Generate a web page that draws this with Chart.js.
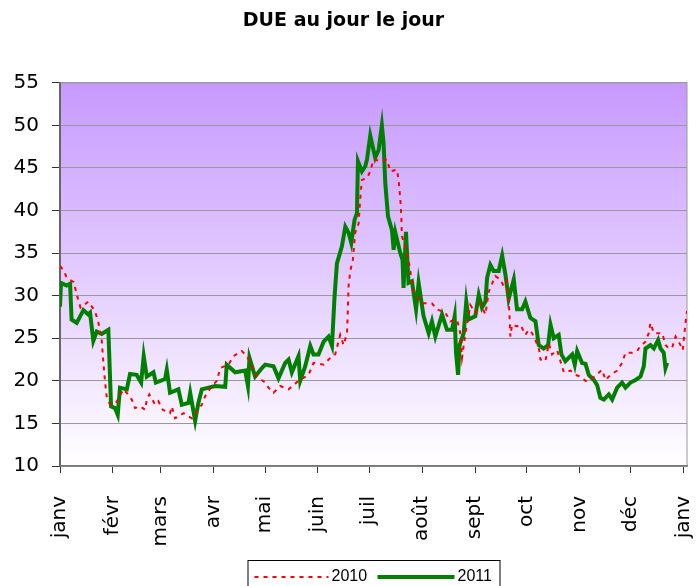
<!DOCTYPE html>
<html>
<head>
<meta charset="utf-8">
<script src="https://cdn.jsdelivr.net/npm/chart.js@4/dist/chart.umd.min.js"></script>
<style>
  body { margin: 0; background: #fff; }
  #wrap { width: 699px; height: 586px; }
</style>
</head>
<body>
<div id="wrap"><canvas id="c"></canvas></div>
<script>
// axis: day of year, month starts
const monthDays = [0, 31, 59, 90, 120, 151, 181, 212, 243, 273, 304, 334, 365];
const monthLabels = ['janv', 'févr', 'mars', 'avr', 'mai', 'juin', 'juil', 'août', 'sept', 'oct', 'nov', 'déc', 'janv'];

const days2010 = [0, 2, 4, 8, 10, 12, 16.6, 20.5, 22.5, 24.4, 25.4, 26.4, 27.3, 29.3, 33, 37.1, 39, 42, 43.9, 46.9,
  49.8, 50.8, 52.3, 55.7, 57.6, 60.1, 64.4, 65.4, 67.4, 72.3, 77.2, 80.1, 83, 85, 88.9, 91.8, 93.8, 98.6, 101.5, 106.4,
  109.4, 113.3, 115.2, 120.1, 122, 125, 128.9, 133.8, 139.6, 145.5, 148.4, 154.3, 158.2, 161.1, 164, 166, 168, 168.5, 168.9, 169.9,
  171.4, 172.8, 174.8, 175.7, 176.7, 179.7, 181.6, 183.5, 187.5, 191.4, 193.3, 197.2, 198.2, 199.2, 199.8, 200.1, 202.1, 204, 206, 206.9,
  211.8, 217.7, 220.6, 225.5, 228.5, 232.4, 234.3, 235.3, 237.3, 240.2, 243.1, 246, 249, 251, 254.8, 257.8, 259.7, 261.6, 263, 263.6,
  264.6, 267.5, 269.5, 272.4, 274.4, 276.3, 278.3, 280.5, 281.2, 284.1, 286.1, 288, 291, 294.9, 298.8, 301.7, 304.7, 307.6, 310.5, 317.3,
  319.3, 322.2, 326.1, 329, 331, 334.9, 337.8, 339.8, 342.7, 344.6, 345.6, 347.6, 352.5, 354.4, 356.4, 358.3, 360.3, 363.2, 364.5, 366, 367];
const values2010 = [33.5, 33.0, 32.1, 31.6, 30.0, 28.6, 29.3, 28.2, 26.8, 24.8, 22.1, 19.8, 18.2, 17.2, 17.5, 19.0, 18.6, 17.8, 16.8, 17.0,
  16.6, 17.8, 18.4, 17.2, 17.6, 16.6, 16.2, 17.0, 15.6, 16.2, 15.6, 16.4, 17.2, 18.2, 19.4, 20.0, 21.5, 21.9, 22.9, 23.5,
  22.9, 21.3, 20.5, 19.8, 19.2, 18.6, 19.4, 19.0, 20.0, 20.7, 22.1, 21.9, 22.7, 23.1, 25.4, 24.2, 25.6, 28.4, 31.1, 32.9,
  34.2, 37.4, 38.5, 41.3, 43.6, 43.8, 44.6, 46.0, 45.8, 46.0, 44.6, 44.8, 43.6, 41.3, 39.3, 37.0, 35.8, 34.2, 31.7, 30.5,
  29.1, 29.1, 28.4, 28.0, 27.0, 27.2, 25.6, 22.7, 25.6, 28.9, 28.0, 29.1, 27.8, 30.5, 32.3, 31.9, 31.1, 31.7, 28.2, 25.2,
  26.6, 26.4, 26.6, 25.4, 26.0, 25.6, 24.8, 23.6, 22.5, 22.3, 24.4, 23.1, 23.6, 21.0, 21.2, 20.7, 20.5, 20.0, 20.1, 21.3,
  20.1, 20.7, 21.2, 22.1, 23.3, 23.3, 23.5, 24.1, 24.6, 25.6, 26.8, 25.6, 25.6, 24.2, 23.8, 23.9, 25.2, 24.2, 23.6, 26.6, 28.2];

const days2011 = [0, 0.6, 3.9, 5.9, 6.8, 9.8, 13.7, 16.6, 17.6, 19.5, 21.5, 24.4, 28.3, 29.9, 32.2, 33.8, 35.1, 39.1, 41, 44.9,
  47.5, 49, 50.8, 54.7, 56.1, 61.5, 62.5, 64.4, 69.3, 71.3, 75.2, 76.2, 79.1, 81, 83, 90.8, 96.7, 97.6, 102.5, 108.4,
  110, 110.9, 114.2, 118.2, 120.1, 125, 127.9, 131.8, 133.8, 135.7, 139.6, 140.6, 143.5, 146.5, 148.4, 151.3, 154.3, 157.2, 159.2, 160.7,
  162.1, 165, 167, 168.9, 170.5, 172.4, 173.8, 174.4, 176.7, 178.7, 179.7, 181.6, 184.5, 186.5, 188.4, 189.4, 190.4, 192, 194.3, 195.3,
  196.3, 199.2, 200.5, 201.1, 202.5, 204, 206, 208.4, 209.9, 212.8, 215.8, 217.7, 219.7, 223.6, 226.5, 229.5, 231, 231.8, 233, 233.9,
  236.3, 237.8, 239.2, 243.1, 245.1, 247, 249, 250, 251.9, 253.8, 256.8, 258.8, 260.7, 262.6, 265.6, 267.5, 270.5, 272.4, 275.3, 278.3,
  280.2, 283.1, 285.7, 287.1, 289, 291.9, 293.5, 295.8, 299.8, 301.3, 302.7, 305.6, 307.6, 309.5, 312.5, 314.4, 316.3, 318.3, 321.2, 323.2,
  326.1, 329, 331, 333.9, 336.9, 339.8, 341.7, 342.7, 345.6, 347.6, 350.1, 351.5, 353.4, 354.4, 355.4];
const values2011 = [28.7, 31.5, 31.2, 31.4, 27.2, 26.8, 28.3, 27.8, 28.0, 24.7, 25.8, 25.5, 26.0, 17.0, 16.8, 16.0, 19.2, 19.0, 20.8, 20.7,
  19.8, 22.9, 20.5, 21.0, 19.8, 20.2, 21.3, 18.6, 19.0, 17.2, 17.4, 18.6, 15.3, 17.4, 19.0, 19.4, 19.3, 21.9, 21.0, 21.2,
  19.4, 22.7, 20.5, 21.5, 21.9, 21.7, 20.3, 22.1, 22.5, 21.0, 22.9, 20.0, 21.7, 24.1, 23.1, 23.1, 24.6, 25.2, 24.1, 29.9,
  33.8, 35.8, 38.1, 37.4, 36.2, 38.9, 39.7, 45.8, 44.6, 45.2, 46.0, 48.8, 46.2, 47.1, 50.0, 47.9, 43.2, 39.3, 37.7, 35.4,
  37.4, 35.0, 34.2, 30.9, 37.5, 31.5, 31.7, 28.4, 31.5, 27.6, 25.6, 27.0, 25.2, 27.8, 26.0, 26.0, 27.6, 23.3, 20.7, 24.2,
  25.6, 29.3, 27.2, 27.6, 30.1, 28.6, 29.3, 32.1, 33.6, 32.9, 32.9, 34.7, 32.5, 29.6, 31.9, 28.4, 28.4, 29.3, 27.4, 27.0,
  24.2, 23.8, 24.2, 26.6, 25.0, 25.4, 23.1, 22.3, 23.1, 21.9, 23.5, 22.1, 22.0, 20.7, 20.1, 19.5, 18.0, 17.8, 18.4, 17.8,
  19.2, 19.8, 19.2, 19.8, 20.1, 20.5, 21.7, 23.8, 24.2, 23.8, 24.8, 23.8, 23.3, 21.5, 22.1];

const yTicks = [10, 15, 20, 25, 30, 35, 40, 45, 50, 55];

const toPoints = (xs, ys) => xs.map((x, i) => ({ x: x, y: ys[i] }));

const plotBg = {
  id: 'plotBg',
  beforeDraw(chart) {
    const { ctx, chartArea: a } = chart;
    ctx.save();
    ctx.fillStyle = '#fff';
    ctx.fillRect(0, 0, chart.width, chart.height);
    const g = ctx.createLinearGradient(0, a.top, 0, a.bottom);
    g.addColorStop(0, '#c799ff');
    g.addColorStop(1, '#ffffff');
    ctx.fillStyle = g;
    ctx.fillRect(a.left, a.top, a.right - a.left, a.bottom - a.top);
    ctx.restore();
  },
  beforeDatasetsDraw(chart) {
    const { ctx, chartArea: a } = chart;
    ctx.save();
    ctx.strokeStyle = '#999';
    ctx.lineWidth = 1;
    ctx.strokeRect(a.left, a.top, a.right - a.left, a.bottom - a.top);
    ctx.restore();
  }
};

// legend in a framed box under the plot
const boxLegend = {
  id: 'boxLegend',
  afterDraw(chart) {
    const { ctx, chartArea: a } = chart;
    const cx = (a.left + a.right) / 2;
    const y = 577;
    ctx.save();
    ctx.fillStyle = '#fff';
    ctx.fillRect(cx - 126, 560, 252, 40);
    ctx.strokeStyle = '#000';
    ctx.lineWidth = 1;
    ctx.strokeRect(cx - 126 + 0.5, 560.5, 252, 40);
    const items = [[cx - 119, cx - 45], [cx + 4, cx + 81]];
    chart.data.datasets.forEach((ds, i) => {
      const [x0, x1] = items[i];
      ctx.strokeStyle = ds.borderColor;
      ctx.lineWidth = ds.borderWidth;
      ctx.setLineDash(ds.borderDash || []);
      ctx.beginPath();
      ctx.moveTo(x0, y);
      ctx.lineTo(x1, y);
      ctx.stroke();
      ctx.setLineDash([]);
      ctx.fillStyle = '#000';
      ctx.font = '16px "Liberation Sans", Arial, sans-serif';
      ctx.textBaseline = 'middle';
      ctx.fillText(ds.label, x1 + 3, y);
    });
    ctx.restore();
  }
};

new Chart(document.getElementById('c'), {
  type: 'line',
  data: {
    datasets: [
      {
        label: '2010',
        data: toPoints(days2010, values2010),
        borderColor: '#ff0000',
        borderWidth: 2,
        borderDash: [4, 5],
        pointRadius: 0,
        tension: 0,
        fill: false
      },
      {
        label: '2011',
        data: toPoints(days2011, values2011),
        borderColor: '#008000',
        borderWidth: 4,
        pointRadius: 0,
        tension: 0,
        fill: false
      }
    ]
  },
  options: {
    responsive: true,
    maintainAspectRatio: false,
    animation: false,
    layout: { padding: { left: 0, right: 12, top: 0, bottom: 0 } },
    plugins: {
      legend: { display: false },
      tooltip: { enabled: false },
      title: {
        display: true,
        text: 'DUE au jour le jour',
        color: '#000',
        font: { family: '"DejaVu Sans", sans-serif', size: 19, weight: 'bold' },
        padding: { top: 10, bottom: 50 }
      }
    },
    scales: {
      x: {
        type: 'linear',
        min: 0,
        max: 367,
        afterBuildTicks: (scale) => { scale.ticks = monthDays.map(v => ({ value: v })); },
        afterFit: (scale) => {
          scale.height = 120;
          scale.paddingLeft = 0;
          scale.paddingRight = 0;
        },
        grid: { drawOnChartArea: false, drawTicks: true, tickLength: 7, tickColor: '#333' },
        border: { display: true, color: '#555', width: 1.5 },
        ticks: {
          autoSkip: false,
          minRotation: 90,
          maxRotation: 90,
          padding: 23,
          color: '#000',
          font: { family: '"DejaVu Sans", sans-serif', size: 20 },
          callback: (v, i) => monthLabels[i]
        }
      },
      y: {
        min: 10,
        max: 55,
        afterBuildTicks: (scale) => { scale.ticks = yTicks.map(v => ({ value: v })); },
        afterFit: (scale) => { scale.width = 60; },
        grid: { color: '#999', lineWidth: 1, tickLength: 8, tickColor: '#333' },
        border: { display: true, color: '#333', width: 2 },
        ticks: {
          padding: 13,
          color: '#000',
          font: { family: '"DejaVu Sans", sans-serif', size: 20 }
        }
      }
    }
  },
  plugins: [plotBg, boxLegend]
});
</script>
</body>
</html>
